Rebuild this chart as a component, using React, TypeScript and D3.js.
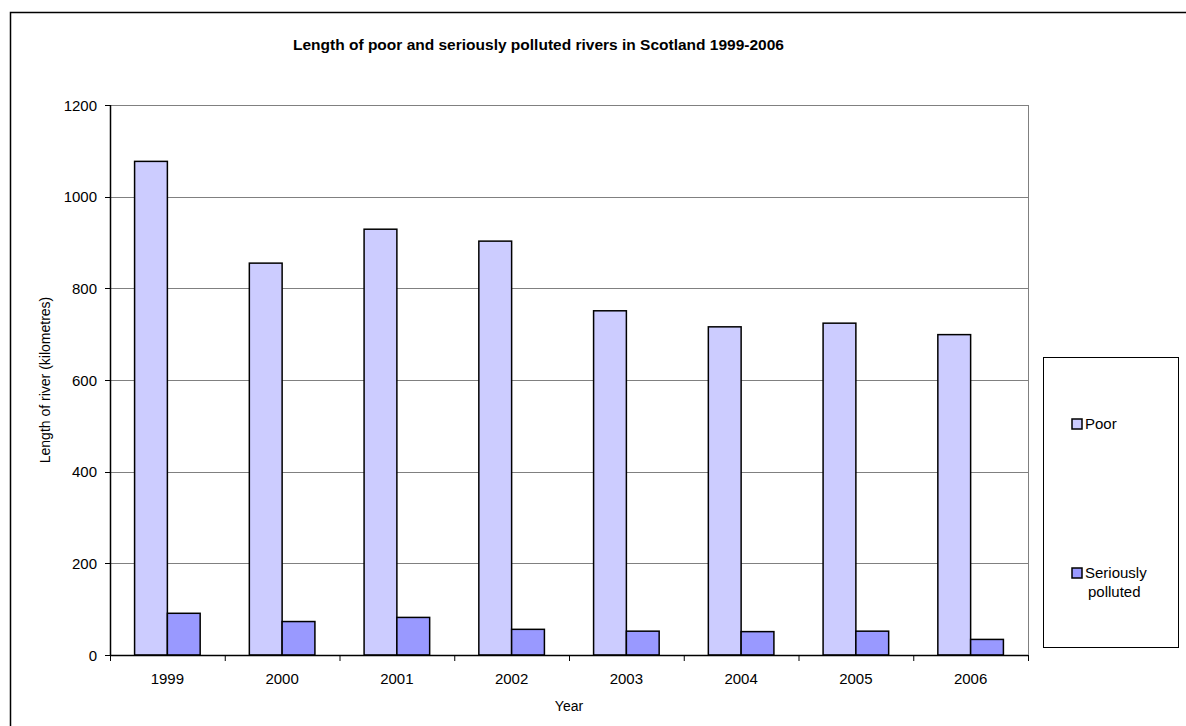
import React from "react";
import * as d3 from "d3";

const years = ["1999", "2000", "2001", "2002", "2003", "2004", "2005", "2006"];
const poor = [1077, 855, 929, 903, 751, 716, 724, 699];
const serious = [91, 73, 82, 56, 52, 51, 52, 34];
const seriesNames = ["Poor", "Seriously polluted"];
const seriesColors = ["#CCCCFF", "#9999FF"];
const yTicks = [0, 200, 400, 600, 800, 1000, 1200];

const W = 1186;
const H = 726;
const plot = { left: 110, top: 105, right: 1028, bottom: 655 };
const FONT = "Liberation Sans, Arial, sans-serif";

export default function App() {
  const x = d3
    .scaleBand<string>()
    .domain(years)
    .range([plot.left, plot.right])
    .paddingInner(0)
    .paddingOuter(0);
  const y = d3.scaleLinear().domain([0, 1200]).range([plot.bottom, plot.top]);
  const catW = x.bandwidth();
  const barW = catW / 3.5;
  const series = [poor, serious];

  return (
    <svg
      width={W}
      height={H}
      style={{ position: "absolute", left: 0, top: 0, background: "#fff" }}
      fontFamily={FONT}
    >
      {/* outer chart frame */}
      <rect x={10.5} y={12.5} width={1190} height={730} fill="#fff" stroke="#000" strokeWidth={1.5} />

      <text x={293} y={50} textAnchor="start" fontSize={15.5} fontWeight="bold" fill="#000">
        Length of poor and seriously polluted rivers in Scotland 1999-2006
      </text>

      {/* gridlines */}
      {yTicks.map((t) => (
        <line
          key={"g" + t}
          x1={plot.left}
          x2={plot.right}
          y1={Math.round(y(t)) + 0.5}
          y2={Math.round(y(t)) + 0.5}
          stroke={t === 0 ? "#000" : "#808080"}
          strokeWidth={1}
        />
      ))}
      <line x1={plot.right + 0.5} x2={plot.right + 0.5} y1={plot.top} y2={plot.bottom} stroke="#808080" />

      {/* bars */}
      {years.map((yr, i) =>
        series.map((s, k) => (
          <rect
            key={yr + k}
            x={(x(yr) as number) + (catW - 2 * barW) / 2 + k * barW}
            y={y(s[i])}
            width={barW}
            height={y(0) - y(s[i])}
            fill={seriesColors[k]}
            stroke="#000"
            strokeWidth={1.5}
          />
        ))
      )}

      {/* y axis */}
      <line x1={plot.left + 0.5} x2={plot.left + 0.5} y1={plot.top} y2={plot.bottom + 1} stroke="#000" strokeWidth={1.5} />
      {yTicks.map((t) => (
        <g key={"y" + t}>
          <line x1={plot.left - 5} x2={plot.left} y1={Math.round(y(t)) + 0.5} y2={Math.round(y(t)) + 0.5} stroke="#000" />
          <text x={97} y={y(t) + 5.5} textAnchor="end" fontSize={15} fill="#000">
            {t}
          </text>
        </g>
      ))}

      {/* x axis */}
      <line x1={plot.left} x2={plot.right} y1={plot.bottom + 0.5} y2={plot.bottom + 0.5} stroke="#000" strokeWidth={1.5} />
      {[...years.map((yr) => x(yr) as number), plot.right].map((px, i) => (
        <line key={"xt" + i} x1={px + 0.5} x2={px + 0.5} y1={plot.bottom} y2={plot.bottom + 6} stroke="#000" />
      ))}
      {years.map((yr) => (
        <text key={"xl" + yr} x={(x(yr) as number) + catW / 2} y={684} textAnchor="middle" fontSize={15} fill="#000">
          {yr}
        </text>
      ))}

      <text x={(plot.left + plot.right) / 2} y={711} textAnchor="middle" fontSize={14} fill="#000">
        Year
      </text>
      <text
        transform={`translate(50, ${(plot.top + plot.bottom) / 2}) rotate(-90)`}
        textAnchor="middle"
        fontSize={14}
        fill="#000"
      >
        Length of river (kilometres)
      </text>

      {/* legend */}
      <rect x={1043.5} y={357.5} width={135} height={290} fill="#fff" stroke="#000" strokeWidth={1} />
      <rect x={1072} y={419} width={10} height={10} fill={seriesColors[0]} stroke="#000" strokeWidth={1.5} />
      <text x={1085} y={429} fontSize={15} fill="#000">
        {seriesNames[0]}
      </text>
      <rect x={1072} y={568} width={10} height={10} fill={seriesColors[1]} stroke="#000" strokeWidth={1.5} />
      <text x={1085} y={578} fontSize={15} fill="#000">
        <tspan x={1085}>Seriously</tspan>
        <tspan x={1088} dy={19}>polluted</tspan>
      </text>
    </svg>
  );
}
